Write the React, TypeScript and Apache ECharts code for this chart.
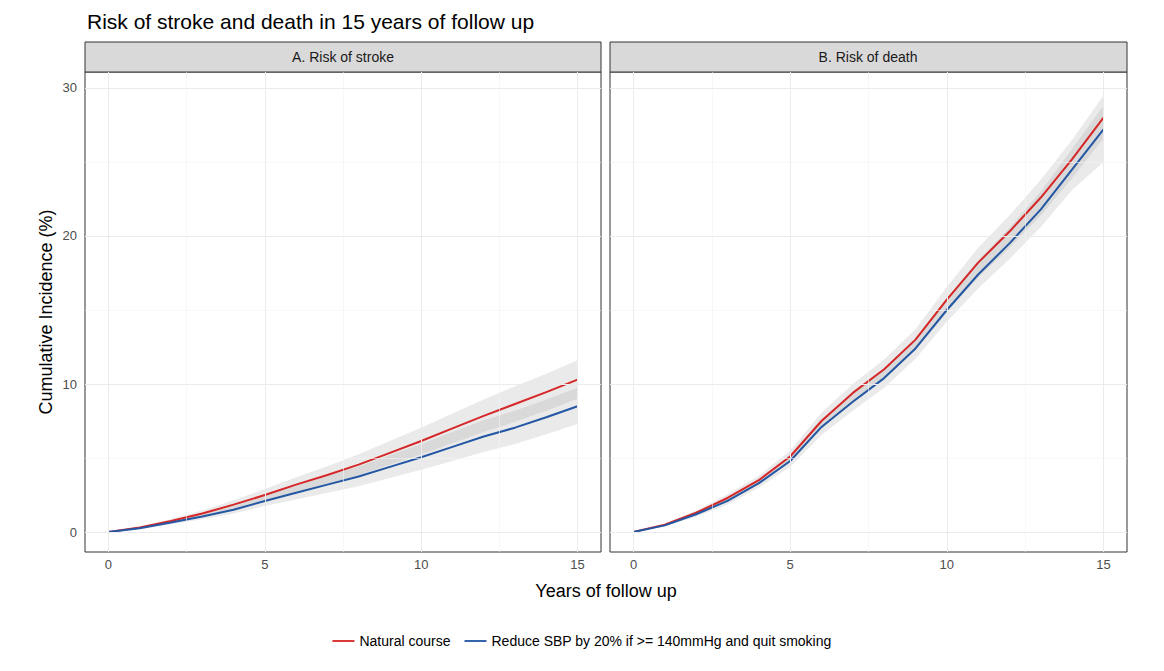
import { useEffect, useRef } from 'react';
import * as echarts from 'echarts';

const years = [0, 1, 2, 3, 4, 5, 6, 7, 8, 9, 10, 11, 12, 13, 14, 15];
const strokeNatural = [0, 0.3, 0.75, 1.25, 1.85, 2.5, 3.2, 3.85, 4.55, 5.35, 6.15, 7.0, 7.85, 8.65, 9.45, 10.3];
const strokeNaturalLo = [0, 0.25, 0.62, 1.05, 1.55, 2.1, 2.7, 3.25, 3.85, 4.55, 5.25, 6.0, 6.75, 7.45, 8.2, 9.0];
const strokeNaturalHi = [0, 0.36, 0.88, 1.45, 2.15, 2.9, 3.7, 4.45, 5.25, 6.15, 7.05, 8.0, 8.95, 9.85, 10.7, 11.6];
const strokeReduce = [0, 0.25, 0.65, 1.05, 1.5, 2.1, 2.65, 3.2, 3.75, 4.4, 5.05, 5.75, 6.45, 7.05, 7.75, 8.5];
const strokeReduceLo = [0, 0.2, 0.53, 0.87, 1.25, 1.75, 2.2, 2.65, 3.1, 3.65, 4.2, 4.8, 5.4, 5.95, 6.6, 7.3];
const strokeReduceHi = [0, 0.3, 0.78, 1.25, 1.78, 2.48, 3.12, 3.78, 4.42, 5.18, 5.95, 6.75, 7.55, 8.2, 8.95, 9.75];
const deathNatural = [0, 0.5, 1.3, 2.3, 3.5, 5.1, 7.5, 9.4, 11.0, 13.0, 15.7, 18.2, 20.3, 22.6, 25.2, 28.0];
const deathNaturalLo = [0, 0.42, 1.15, 2.05, 3.2, 4.7, 6.95, 8.8, 10.35, 12.3, 14.85, 17.2, 19.2, 21.4, 23.9, 26.6];
const deathNaturalHi = [0, 0.58, 1.45, 2.55, 3.8, 5.5, 8.05, 10.0, 11.65, 13.7, 16.55, 19.2, 21.4, 23.8, 26.5, 29.5];
const deathReduce = [0, 0.45, 1.2, 2.1, 3.3, 4.8, 7.1, 8.8, 10.4, 12.4, 15.0, 17.4, 19.5, 21.8, 24.5, 27.2];
const deathReduceLo = [0, 0.37, 1.05, 1.85, 3.0, 4.4, 6.55, 8.2, 9.75, 11.7, 14.2, 16.45, 18.45, 20.6, 23.1, 25.0];
const deathReduceHi = [0, 0.53, 1.35, 2.35, 3.6, 5.2, 7.65, 9.4, 11.05, 13.1, 15.8, 18.35, 20.55, 23.0, 25.9, 28.8];
const xTicks = [0, 5, 10, 15];
const xMinor = [2.5, 7.5, 12.5];
const yTicks = [0, 10, 20, 30];
const yMinor = [5, 15, 25];

const RED = '#D62728';
const BLUE = '#2357A3';
const LEGEND_LINE = 'path://M0,0L24,0L24,2L0,2Z';

const band = (idx: number, lo: number[], hi: number[]) => ({
  type: 'custom',
  xAxisIndex: idx,
  yAxisIndex: idx,
  silent: true,
  z: 1,
  data: years.map((x, i) => [x, lo[i], hi[i]]),
  renderItem: (params: any, api: any) => {
    if (params.dataIndex !== 0) return null;
    const top = years.map((x, i) => api.coord([x, hi[i]]));
    const bot = years.map((x, i) => api.coord([x, lo[i]])).reverse();
    return {
      type: 'polygon',
      shape: { points: top.concat(bot) },
      style: { fill: 'rgba(150,150,150,0.2)' },
    };
  },
});

const line = (idx: number, name: string, vals: number[], color: string) => ({
  type: 'line',
  name,
  xAxisIndex: idx,
  yAxisIndex: idx,
  data: years.map((x, i) => [x, vals[i]]),
  symbol: 'none',
  z: 3,
  lineStyle: { color, width: 2 },
  itemStyle: { color },
});

const gridLines = (idx: number) => ({
  type: 'line',
  xAxisIndex: idx,
  yAxisIndex: idx,
  data: [],
  silent: true,
  z: 0,
  markLine: {
    silent: true,
    symbol: 'none',
    label: { show: false },
    data: [
      ...xMinor.map((v) => ({ xAxis: v, lineStyle: { color: '#f3f3f3', width: 0.6, type: 'solid' } })),
      ...yMinor.map((v) => ({ yAxis: v, lineStyle: { color: '#f3f3f3', width: 0.6, type: 'solid' } })),
      ...xTicks.map((v) => ({ xAxis: v, lineStyle: { color: '#ebebeb', width: 1, type: 'solid' } })),
      ...yTicks.map((v) => ({ yAxis: v, lineStyle: { color: '#ebebeb', width: 1, type: 'solid' } })),
    ],
  },
});

const axisLabel = { color: '#4d4d4d', fontSize: 13, fontFamily: 'Liberation Sans' };

function App() {
  const divEL = useRef<HTMLDivElement>(null);

  useEffect(() => {
    const instance = echarts.init(divEL.current as any, null, { renderer: 'svg' });
    const xAxis = (idx: number) => ({
      type: 'value',
      gridIndex: idx,
      min: -0.75,
      max: 15.75,
      axisLine: { show: false },
      splitLine: { show: false },
      axisTick: { show: true, customValues: xTicks, length: 4, lineStyle: { color: '#333' } },
      axisLabel: { ...axisLabel, customValues: xTicks, margin: 6 },
    });
    const yAxis = (idx: number) => ({
      type: 'value',
      gridIndex: idx,
      min: -1.35,
      max: 31.08,
      axisLine: { show: false },
      splitLine: { show: false },
      axisTick: { show: idx === 0, customValues: yTicks, length: 4, lineStyle: { color: '#333' } },
      axisLabel: { ...axisLabel, show: idx === 0, customValues: yTicks, margin: 8 },
    });
    const option: any = {
      animation: false,
      textStyle: { fontFamily: 'Liberation Sans' },
      title: {
        text: 'Risk of stroke and death in 15 years of follow up',
        left: 82,
        top: 6,
        textStyle: { fontSize: 21, fontWeight: 'normal', color: '#000', fontFamily: 'Liberation Sans' },
      },
      grid: [
        { left: 85, width: 516, top: 72, height: 480, show: true, borderColor: '#333', borderWidth: 1 },
        { left: 610, width: 517, top: 72, height: 480, show: true, borderColor: '#333', borderWidth: 1 },
      ],
      xAxis: [xAxis(0), xAxis(1)],
      yAxis: [yAxis(0), yAxis(1)],
      legend: {
        bottom: 18,
        left: 'center',
        itemWidth: 22,
        itemHeight: 2,
        itemGap: 14,
        data: [
          { name: 'Natural course', icon: LEGEND_LINE },
          { name: 'Reduce SBP by 20% if >= 140mmHg and quit smoking', icon: LEGEND_LINE },
        ],
        textStyle: { fontSize: 14, color: '#000', fontFamily: 'Liberation Sans' },
      },
      graphic: [
        { type: 'rect', shape: { x: 85, y: 42, width: 516, height: 30 }, style: { fill: '#d9d9d9', stroke: '#333', lineWidth: 1 } },
        { type: 'rect', shape: { x: 610, y: 42, width: 517, height: 30 }, style: { fill: '#d9d9d9', stroke: '#333', lineWidth: 1 } },
        { type: 'text', x: 343, y: 57, style: { text: 'A. Risk of stroke', fill: '#1a1a1a', fontSize: 14, fontFamily: 'Liberation Sans', align: 'center', verticalAlign: 'middle' } },
        { type: 'text', x: 868, y: 57, style: { text: 'B. Risk of death', fill: '#1a1a1a', fontSize: 14, fontFamily: 'Liberation Sans', align: 'center', verticalAlign: 'middle' } },
        { type: 'text', x: 606, y: 591, style: { text: 'Years of follow up', fill: '#000', fontSize: 18, fontFamily: 'Liberation Sans', align: 'center', verticalAlign: 'middle' } },
        { type: 'text', x: 46, y: 312, rotation: Math.PI / 2, style: { text: 'Cumulative Incidence (%)', fill: '#000', fontSize: 18, fontFamily: 'Liberation Sans', align: 'center', verticalAlign: 'middle' } },
      ],
      series: [
        gridLines(0),
        gridLines(1),
        band(0, strokeNaturalLo, strokeNaturalHi),
        band(0, strokeReduceLo, strokeReduceHi),
        band(1, deathNaturalLo, deathNaturalHi),
        band(1, deathReduceLo, deathReduceHi),
        line(0, 'Natural course', strokeNatural, RED),
        line(0, 'Reduce SBP by 20% if >= 140mmHg and quit smoking', strokeReduce, BLUE),
        line(1, 'Natural course', deathNatural, RED),
        line(1, 'Reduce SBP by 20% if >= 140mmHg and quit smoking', deathReduce, BLUE),
      ],
    };
    instance.setOption(option);
    return () => {
      instance.dispose();
    };
  }, []);

  return <div ref={divEL} style={{ position: 'fixed', left: 0, top: 0, width: '1164px', height: '671px', background: '#fff' }}></div>;
}

export default App;
